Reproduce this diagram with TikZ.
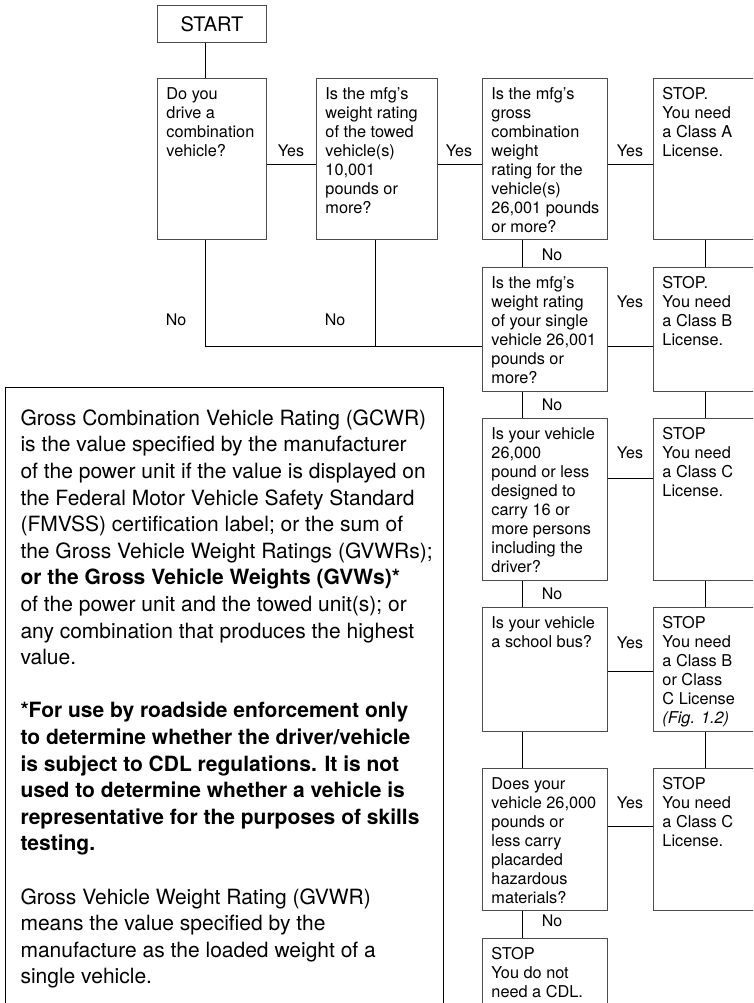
\documentclass[tikz,border=0pt]{standalone}
\usepackage{fontspec}
\setmainfont{TeX Gyre Heros}
\usetikzlibrary{positioning, calc}

\newcommand{\boxtxt}[3]{\makebox[#1][l]{\parbox[c][#2][t]{500pt}{\raggedright #3}}}

\begin{document}
\begin{tikzpicture}[x=1pt, y=-1pt,
  box/.style={draw=black!70, line width=0.9pt, anchor=north west, inner xsep=9pt, inner ysep=9pt, font=\fontsize{16.3}{19}\selectfont},
  link/.style={line width=1.4pt},
  lbl/.style={font=\fontsize{16}{19}\selectfont, inner sep=0pt}]
\useasboundingbox (0,0) rectangle (753,1003);
\clip (0,0) rectangle (753,1003);

\node [draw=black!70, line width=0.9pt, anchor=north west, minimum width=109pt, minimum height=37pt, inner sep=0pt, font=\fontsize{20}{24}\selectfont] (start) at (157,5) {START};

\node [box] (q1) at (157,78) {\boxtxt{91pt}{143pt}{Do you\\drive a\\combination\\vehicle?}};
\node [box] (q2) at (316,78) {\boxtxt{103pt}{143pt}{Is the mfg's\\weight rating\\of the towed\\vehicle(s)\\10,001\\pounds or\\more?}};
\node [box] (q3) at (482,78) {\boxtxt{107pt}{143pt}{Is the mfg's\\gross\\combination\\weight\\rating for the\\vehicle(s)\\26,001 pounds\\or more?}};
\node [box] (a) at (653,78) {\boxtxt{86pt}{143pt}{STOP.\\You need\\a Class A\\License.}};

\node [box] (q4) at (482,267) {\boxtxt{107pt}{106pt}{Is the mfg's\\weight rating\\of your single\\vehicle 26,001\\pounds or\\more?}};
\node [box] (b) at (653,267) {\boxtxt{86pt}{106pt}{STOP.\\You need\\a Class B\\License.}};

\node [box] (q5) at (482,418) {\boxtxt{107pt}{144pt}{Is your vehicle\\26,000\\pound or less\\designed to\\carry 16 or\\more persons\\including the\\driver?}};
\node [box] (c) at (653,418) {\boxtxt{86pt}{144pt}{STOP\\You need\\a Class C\\License.}};

\node [box] (q6) at (482,607) {\boxtxt{107pt}{106pt}{Is your vehicle\\a school bus?}};
\node [box] (bc) at (653,607) {\boxtxt{86pt}{106pt}{STOP\\You need\\a Class B\\or Class\\C License\\\textit{(Fig. 1.2)}}};

\node [box] (q7) at (482,768) {\boxtxt{107pt}{124pt}{Does your\\vehicle 26,000\\pounds or\\less carry\\placarded\\hazardous\\materials?}};
\node [box] (d) at (653,768) {\boxtxt{86pt}{124pt}{STOP\\You need\\a Class C\\License.}};

\node [box] (none) at (482,938) {\boxtxt{107pt}{80pt}{STOP\\You do not\\need a CDL.}};

\node [draw=black, line width=1.1pt, anchor=north west, inner xsep=15pt, inner ysep=22pt, font=\fontsize{21}{26.6}\selectfont] (info) at (5,387) {\boxtxt{408pt}{596pt}{Gross Combination Vehicle Rating (GCWR)\\
is the value specified by the manufacturer\\
of the power unit if the value is displayed on\\
the Federal Motor Vehicle Safety Standard\\
(FMVSS) certification label; or the sum of\\
the Gross Vehicle Weight Ratings (GVWRs);\\
\textbf{or the Gross Vehicle Weights (GVWs)*}\\
of the power unit and the towed unit(s); or\\
any combination that produces the highest\\
value.\par\vspace{26.6pt}
\textbf{*For use by roadside enforcement only\\
to determine whether the driver/vehicle\\
is subject to CDL regulations. It is not\\
used to determine whether a vehicle is\\
representative for the purposes of skills\\
testing.}\par\vspace{26.6pt}
Gross Vehicle Weight Rating (GVWR)\\
means the value specified by the\\
manufacture as the loaded weight of a\\
single vehicle.}};

\draw [link] ([xshift=-6.5pt]start.south) -- ([xshift=-6.5pt]q1.north);
\draw [link] ([yshift=-5.5pt]q1.east) -- ([yshift=-5.5pt]q2.west);
\draw [link] ([yshift=-5.5pt]q2.east) -- ([yshift=-5.5pt]q3.west);
\draw [link] ([yshift=-5.5pt]q3.east) -- ([yshift=-5.5pt]a.west);
\coordinate (q4in) at ([yshift=-17pt]q4.west);
\draw [link] ([xshift=-6.5pt]q1.south) |- (q4in);
\draw [link] ([xshift=-1.5pt]q2.south) -- ([xshift=-1.5pt]q2.south |- q4in);
\draw [link] ([yshift=-17pt]q4.east) -- ([yshift=-17pt]b.west);
\draw [link] ([yshift=21pt]q5.east) -- ([yshift=21pt]c.west);
\draw [link] ([yshift=-2pt]q6.east) -- ([yshift=-2pt]bc.west);
\draw [link] ([yshift=13pt]q7.east) -- ([yshift=13pt]d.west);
\foreach \u/\l in {q3/q4, q4/q5, q5/q6, q6/q7, q7/none} \draw [link] ([xshift=-22.5pt]\u.south) -- ([xshift=-22.5pt]\l.north);
\foreach \u/\l in {a/b, b/c, c/bc, bc/d} \draw [link] (\u.south) -- (\l.north);

\node [lbl] (yes1) at (291,151) {Yes};
\node [lbl] (yes2) at (459,151) {Yes};
\node [lbl] (yes3) at (630,151) {Yes};
\node [lbl] (yes4) at (630,302) {Yes};
\node [lbl] (yes5) at (630,453) {Yes};
\node [lbl] (yes6) at (630,643) {Yes};
\node [lbl] (yes7) at (630,803) {Yes};
\node [lbl] (no1) at (176,320) {No};
\node [lbl] (no2) at (335,320) {No};
\node [lbl] (no3) at (552,255) {No};
\node [lbl] (no4) at (552,405) {No};
\node [lbl] (no5) at (552,594) {No};
\node [lbl] (no6) at (552,921) {No};
\end{tikzpicture}
\end{document}
